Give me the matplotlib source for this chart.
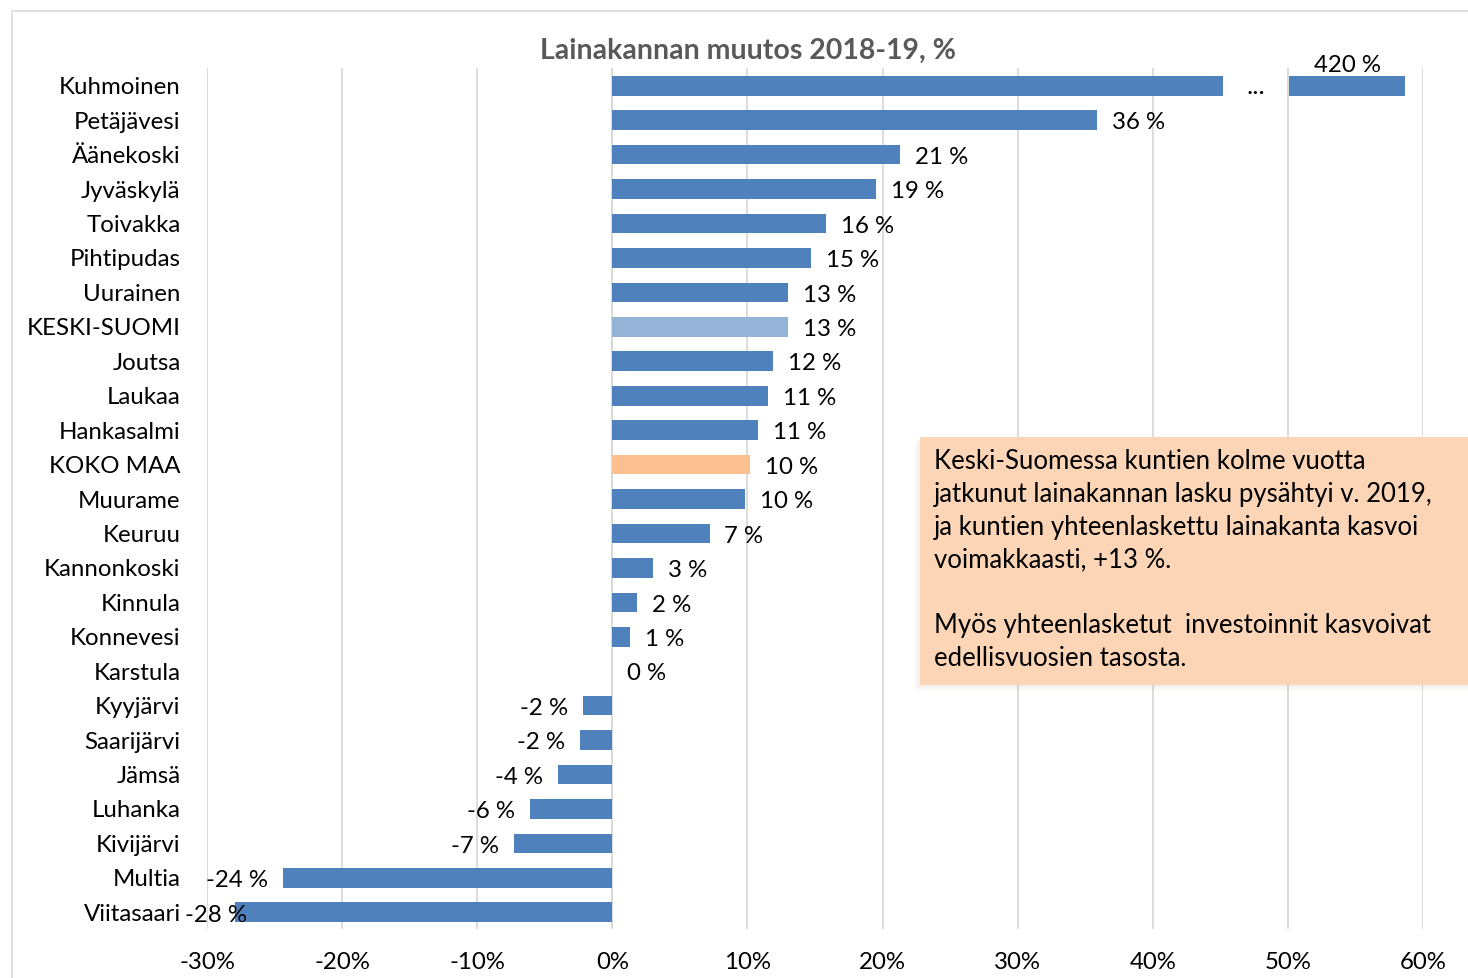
import matplotlib
matplotlib.use("Agg")
import matplotlib.pyplot as plt
from matplotlib.patches import Rectangle
import numpy as np

plt.rcParams['font.family'] = ['Lato', 'DejaVu Sans']

categories = ["Kuhmoinen", "Petäjävesi", "Äänekoski", "Jyväskylä", "Toivakka",
              "Pihtipudas", "Uurainen", "KESKI-SUOMI", "Joutsa", "Laukaa",
              "Hankasalmi", "KOKO MAA", "Muurame", "Keuruu", "Kannonkoski",
              "Kinnula", "Konnevesi", "Karstula", "Kyyjärvi", "Saarijärvi",
              "Jämsä", "Luhanka", "Kivijärvi", "Multia", "Viitasaari"]
values = [420, 35.9, 21.3, 19.5, 15.8, 14.7, 13.0, 13.0, 11.9, 11.5,
          10.8, 10.2, 9.8, 7.2, 3.0, 1.8, 1.3, 0.0, -2.2, -2.4,
          -4.0, -6.1, -7.3, -24.4, -27.9]
labels = ["420 %", "36 %", "21 %", "19 %", "16 %", "15 %", "13 %", "13 %", "12 %", "11 %",
          "11 %", "10 %", "10 %", "7 %", "3 %", "2 %", "1 %", "0 %", "-2 %", "-2 %",
          "-4 %", "-6 %", "-7 %", "-24 %", "-28 %"]
# broken-axis display for the outlier (Kuhmoinen)
break_main_end = 45.2
break_stub = (50.1, 58.7)

xticks = [-30, -20, -10, 0, 10, 20, 30, 40, 50, 60]
xtick_labels = ["-30%", "-20%", "-10%", "0%", "10%", "20%", "30%", "40%", "50%", "60%"]

title = "Lainakannan muutos 2018-19, %"
note = ("Keski-Suomessa kuntien kolme vuotta\n"
        "jatkunut lainakannan lasku pysähtyi v. 2019,\n"
        "ja kuntien yhteenlaskettu lainakanta kasvoi\n"
        "voimakkaasti, +13 %.\n"
        "\n"
        "Myös yhteenlasketut  investoinnit kasvoivat\n"
        "edellisvuosien tasosta.")

BLUE = "#4F81BD"
LIGHT = "#95B3D7"
ORANGE = "#FAC090"

W, H = 1468, 979
fig = plt.figure(figsize=(W / 100, H / 100), dpi=100)
ax = fig.add_axes([207 / W, 1 - 929.5 / H, (1423 - 207) / W, (929.5 - 68.5) / H])

n = len(categories)
y = np.arange(n)
colors = []
for c in categories:
    if c == "KESKI-SUOMI":
        colors.append(LIGHT)
    elif c == "KOKO MAA":
        colors.append(ORANGE)
    else:
        colors.append(BLUE)

FS = 17.3
bh = 0.57
yo = 0.03
disp = [v if i != 0 else break_main_end for i, v in enumerate(values)]
ax.barh(y + yo, disp, height=bh, color=colors, zorder=3)
# stub of the broken bar
ax.barh(y[0] + yo, break_stub[1] - break_stub[0], left=break_stub[0], height=bh, color=BLUE, zorder=3)
ax.text((break_main_end + break_stub[0]) / 2, y[0] + 0.02, "...", ha='center', va='center',
        fontsize=19, color="#000000")
ax.text(sum(break_stub) / 2, y[0] - 0.6, labels[0], ha='center', va='center', fontsize=FS)

off = 1.1
for i in range(1, n):
    v = values[i]
    if v >= 0:
        ax.text(v + off, y[i] + 0.08, labels[i], ha='left', va='center', fontsize=FS)
    else:
        xpos = v - off
        if xpos < -28.5:
            ax.text(-31.6, y[i] + 0.08, labels[i], ha='left', va='center', fontsize=FS,
                    clip_on=False)
        else:
            ax.text(xpos, y[i] + 0.08, labels[i], ha='right', va='center', fontsize=FS)

ax.set_xlim(-30, 60)
ax.set_ylim(n - 0.5, -0.5)
ax.set_xticks(xticks)
ax.set_xticklabels(xtick_labels)
ax.set_yticks(y)
ax.set_yticklabels(categories)
ax.tick_params(axis='both', length=0, labelsize=FS, colors="#000000")
ax.tick_params(axis='y', pad=19)
ax.tick_params(axis='x', pad=16)
ax.grid(axis='x', color="#D9D9D9", linewidth=1.3, zorder=0)
for s in ax.spines.values():
    s.set_visible(False)
ax.axvline(0, color="#D9D9D9", linewidth=1.3, zorder=1)

fig.text(748 / W, 1 - 51 / H, title, ha='center', va='center', fontsize=20.5,
         fontweight='bold', color="#595959")

# chart border
fig.patches.append(Rectangle((12 / W, -0.01), 1.02, 1 - 12 / H + 0.01, transform=fig.transFigure,
                             facecolor='none', edgecolor="#D9D9D9", linewidth=1.2))

# note box with soft shadow
for k, a in enumerate([0.06, 0.05, 0.04]):
    d = (k + 1) * 2
    fig.patches.append(Rectangle(((920 - d) / W, 1 - (686 + d) / H), (560) / W, (248) / H,
                                 transform=fig.transFigure, facecolor="#C0A080", alpha=a,
                                 edgecolor='none', zorder=5))
fig.patches.append(Rectangle((920 / W, 1 - 686 / H), 560 / W, 248 / H, transform=fig.transFigure,
                             facecolor="#FBD5B5", edgecolor='none', zorder=6))
fig.text(934 / W, 1 - 449 / H, note, ha='left', va='top', fontsize=18.5, linespacing=1.39,
         zorder=7)

fig.savefig("out.png", dpi=100)
